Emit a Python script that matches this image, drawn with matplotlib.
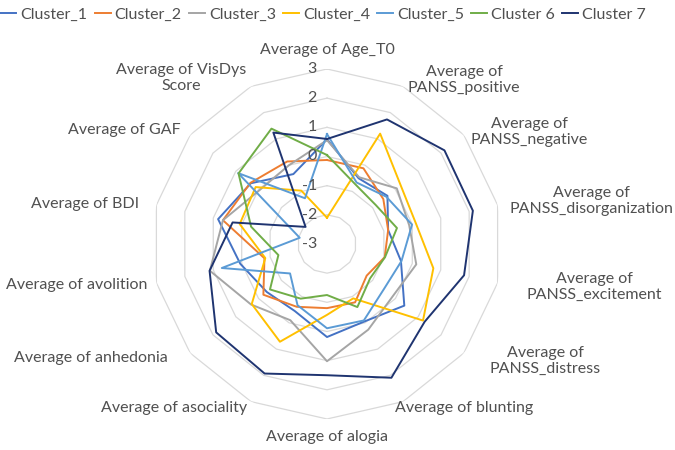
import numpy as np
import matplotlib
matplotlib.use("Agg")
import matplotlib.pyplot as plt
from matplotlib.lines import Line2D

# axes of the radar, clockwise from top
categories = ["Average of Age_T0", "Average of\nPANSS_positive", "Average of\nPANSS_negative",
              "Average of\nPANSS_disorganization", "Average of\nPANSS_excitement",
              "Average of\nPANSS_distress", "Average of blunting", "Average of alogia",
              "Average of asociality", "Average of anhedonia", "Average of avolition",
              "Average of BDI", "Average of GAF", "Average of VisDys\nScore"]

cluster_1 = [0.59, -0.5, -0.35, -0.85, -0.4, 0.39, -0.05, 0.19, -0.45, -0.36, 0.05, 0.83, 0.34, -0.34]
cluster_2 = [-0.12, -0.12, -0.53, -0.85, -0.97, -1.26, -0.78, -0.8, -0.61, -0.21, -0.8, 0.66, 0.36, 0.14]
cluster_3 = [0.56, -0.46, 0.06, -0.11, 0.14, -0.12, 0.26, 1.02, -0.1, 0.33, 1.12, 0.66, -0.04, 0.0]
cluster_4 = [-2.1, 1.2, 0.23, 0.13, 0.74, 1.21, -0.93, -0.57, 0.72, 0.3, -0.83, 0.07, 0.13, -0.97]
cluster_5 = [0.77, -0.66, -0.4, -0.01, -0.38, -0.51, -0.09, -0.11, -0.67, -1.38, 0.7, -2.04, 0.9, -1.26]
cluster_6 = [0.05, -0.74, -0.86, -0.54, -0.96, -1.11, -0.6, -1.25, -0.92, -0.5, -1.29, -0.33, 0.88, 1.39]
cluster_7 = [0.6, 1.74, 2.15, 2.13, 1.82, 1.28, 2.09, 1.5, 1.93, 1.86, 1.13, 0.32, -2.06, 1.24]

series_names = ["Cluster_1", "Cluster_2", "Cluster_3", "Cluster_4", "Cluster_5", "Cluster 6", "Cluster 7"]
series = [cluster_1, cluster_2, cluster_3, cluster_4, cluster_5, cluster_6, cluster_7]
colors = ["#4472C4", "#ED7D31", "#A5A5A5", "#FFC000", "#5B9BD5", "#70AD47", "#1F3470"]
ticks = [-3, -2, -1, 0, 1, 2, 3]

# label centres in pixels (layout only)
label_px = [(327, 50), (464, 80), (529, 132), (591, 201), (594, 287), (545, 361), (464, 408),
            (327, 437), (174, 408), (91, 358), (77, 285), (85, 204), (124, 130), (181, 78)]

plt.rcParams['font.family'] = ['Lato', 'DejaVu Sans']
txt = "#505050"
W, H = 675, 450
fig = plt.figure(figsize=(6.75, 4.5), dpi=100)
ax = fig.add_axes([0.2252, 0.0689, 0.5185, 0.7778], projection="polar")
ax.set_theta_offset(np.pi / 2)
ax.set_theta_direction(-1)
ax.set_ylim(-3, 3)

n = len(categories)
ang = np.linspace(0, 2 * np.pi, n, endpoint=False)
ang_c = np.append(ang, ang[0])

# polygon grid
for t in ticks[1:]:
    ax.plot(ang_c, [t] * (n + 1), color="#D9D9D9", lw=0.9, zorder=1)

for name, vals, c in zip(series_names, series, colors):
    ax.plot(ang_c, vals + vals[:1], color=c, lw=1.4, label=name, zorder=3)

ax.grid(False)
ax.spines["polar"].set_visible(False)
ax.set_xticks([])
ax.set_yticks([])
ax.patch.set_alpha(0)

for t in ticks:
    ax.annotate(str(t), xy=(0, t), xytext=(-10, 0), textcoords="offset pixels",
                ha="right", va="center", fontsize=11.5, color=txt)

for lab, (x, y) in zip(categories, label_px):
    fig.text(x / W, 1 - y / H, lab, ha="center", va="center", multialignment="center",
             fontsize=11.5, color=txt, linespacing=1.15)

handles = [Line2D([], [], color=c, lw=1.4) for c in colors]
fig.legend(handles, series_names, loc="upper center", bbox_to_anchor=(0.479, 1.015), ncol=7,
           frameon=False, fontsize=11.5, handlelength=1.0, handletextpad=0.25,
           columnspacing=0.45, labelcolor=txt)

fig.savefig("out.png", dpi=100)
